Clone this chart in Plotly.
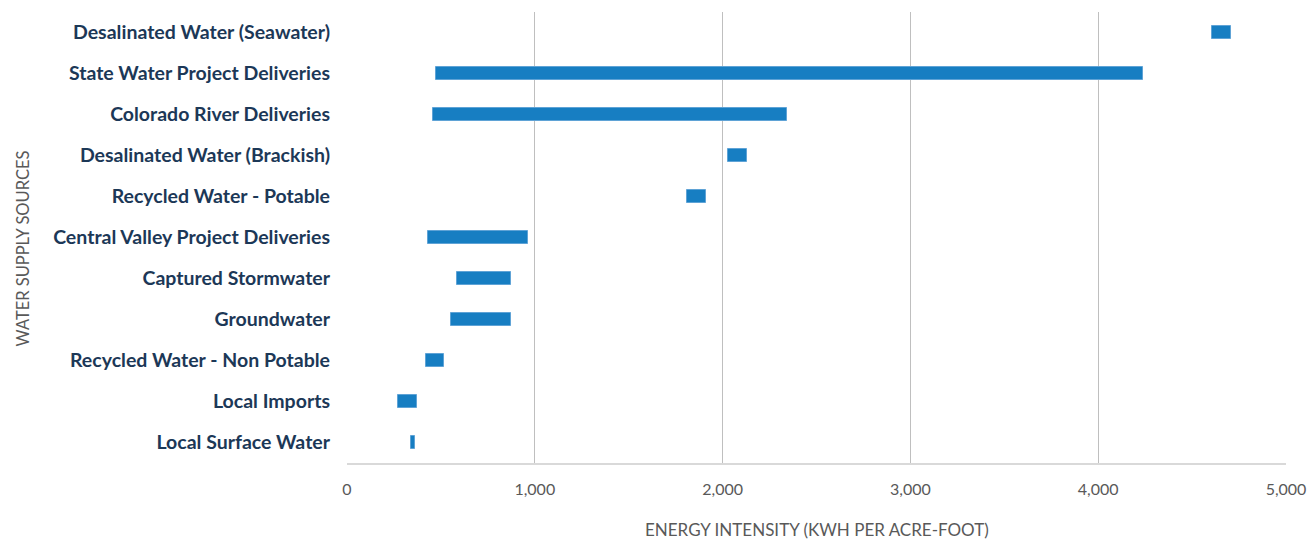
import plotly.graph_objects as go

# Energy intensity ranges by water supply source (kWh per acre-foot)
sources = [
    "Desalinated Water (Seawater)",
    "State Water Project Deliveries",
    "Colorado River Deliveries",
    "Desalinated Water (Brackish)",
    "Recycled Water - Potable",
    "Central Valley Project Deliveries",
    "Captured Stormwater",
    "Groundwater",
    "Recycled Water - Non Potable",
    "Local Imports",
    "Local Surface Water",
]
low_kwh = [4605, 474, 459, 2028, 1809, 431, 585, 555, 418, 271, 342]
high_kwh = [4708, 4238, 2342, 2129, 1911, 965, 874, 874, 518, 372, 362]

x_ticks = [0, 1000, 2000, 3000, 4000, 5000]
x_tick_text = ["0", "1,000", "2,000", "3,000", "4,000", "5,000"]

spans = [h - l for l, h in zip(low_kwh, high_kwh)]

fig = go.Figure(
    go.Bar(
        y=sources,
        x=spans,
        base=low_kwh,
        orientation="h",
        width=0.34,
        marker=dict(color="#177ec2", line=dict(width=1, color="#5fa3d6")),
        hovertemplate="%{y}: %{base:,} – %{x:,}<extra></extra>",
    )
)

fig.update_layout(
    width=1307,
    height=540,
    margin=dict(l=347, r=21, t=12, b=77, autoexpand=False),
    paper_bgcolor="white",
    plot_bgcolor="white",
    showlegend=False,
    bargap=0,
    font=dict(family="Lato, 'Open Sans', sans-serif", color="#595959"),
    xaxis=dict(
        automargin=False,
        range=[0, 5000],
        tickvals=x_ticks,
        ticktext=x_tick_text,
        showgrid=True,
        gridcolor="#bfbfbf",
        gridwidth=1,
        zeroline=False,
        showline=True,
        linecolor="#d9d9d9",
        linewidth=2,
        ticks="",
        ticklabelstandoff=11,
        tickfont=dict(size=16, color="#595959", family="Lato, sans-serif"),
    ),
    yaxis=dict(
        automargin=False,
        categoryorder="array",
        categoryarray=sources[::-1],
        showgrid=False,
        zeroline=False,
        showline=False,
        ticks="",
        ticklabelstandoff=16,
        tickfont=dict(size=19.5, color="#1c3857", family="Lato, sans-serif", weight=700),
    ),
    annotations=[
        dict(
            text="ENERGY INTENSITY (KWH PER ACRE-FOOT)",
            xref="paper", yref="paper",
            x=0.5, y=0, yshift=-66,
            xanchor="center", yanchor="middle",
            showarrow=False,
            font=dict(size=17, color="#595959", family="Lato, sans-serif"),
        ),
        dict(
            text="WATER SUPPLY SOURCES",
            xref="paper", yref="paper",
            x=0, xshift=-325, y=0.5, yshift=-11,
            xanchor="center", yanchor="middle",
            textangle=-90,
            showarrow=False,
            font=dict(size=16.5, color="#595959", family="Lato, sans-serif"),
        ),
    ],
)

fig.write_html("out.html")
